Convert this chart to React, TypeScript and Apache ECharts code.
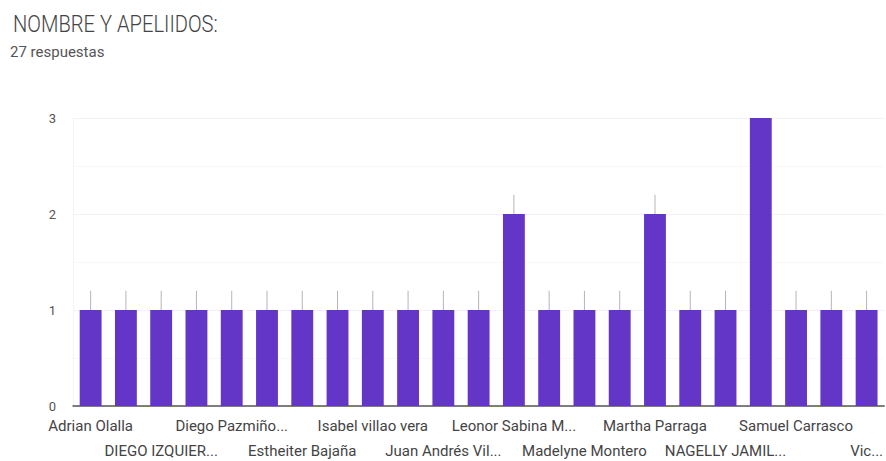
import React, { useEffect, useRef } from "react";
import * as echarts from "echarts";

const titleText = "NOMBRE Y APELIIDOS:";
const subtitleText = "27 respuestas";

// Names readable on the axis (every other bar is labelled); unlabelled bars have ""
const categories = [
  "Adrian Olalla", "", "DIEGO IZQUIER...", "", "Diego Pazmiño...", "", "Estheiter Bajaña", "",
  "Isabel villao vera", "", "Juan Andrés Vil...", "", "Leonor Sabina M...", "", "Madelyne Montero", "",
  "Martha Parraga", "", "NAGELLY JAMIL...", "", "Samuel Carrasco", "", "Vic...",
];
const counts = [1, 1, 1, 1, 1, 1, 1, 1, 1, 1, 1, 1, 2, 1, 1, 1, 2, 1, 1, 3, 1, 1, 1];
const yTicks = [0, 1, 2, 3];

const BAR = "#6436c8";

const labelBase = {
  fontSize: 15,
  color: "#444",
  showMinLabel: true,
  showMaxLabel: true,
  hideOverlap: false,
};

export default function App() {
  const ref = useRef<HTMLDivElement>(null);
  useEffect(() => {
    if (!ref.current) return;
    const chart = echarts.init(ref.current, null, { renderer: "svg" });
    chart.setOption({
      animation: false,
      backgroundColor: "#ffffff",
      textStyle: { fontFamily: "Roboto, Arial, sans-serif" },
      graphic: [
        {
          type: "text",
          x: 13,
          y: 11,
          scaleX: 0.84,
          style: {
            text: titleText,
            fontSize: 24,
            fontWeight: 300,
            fill: "#444",
            fontFamily: "Roboto",
            verticalAlign: "top",
          },
        },
        {
          type: "text",
          x: 10,
          y: 44,
          style: {
            text: subtitleText,
            fontSize: 15,
            fill: "#555",
            fontFamily: "Roboto",
            verticalAlign: "top",
          },
        },
      ],
      grid: { left: 73, right: -1, top: 118, bottom: 55 },
      xAxis: [
        {
          type: "category",
          data: categories,
          axisTick: { show: false },
          axisLine: { lineStyle: { color: "#555", width: 1.5 } },
          axisLabel: {
            ...labelBase,
            margin: 12,
            interval: (i: number) => i % 4 === 0,
          },
        },
        {
          type: "category",
          data: categories,
          position: "bottom",
          axisTick: { show: false },
          axisLine: { show: false },
          axisLabel: {
            ...labelBase,
            margin: 37,
            interval: (i: number) => i % 4 === 2,
          },
        },
      ],
      yAxis: {
        type: "value",
        min: yTicks[0],
        max: yTicks[yTicks.length - 1],
        interval: 1,
        axisLine: { show: true, lineStyle: { color: "#f4f4f4" } },
        axisTick: { show: false },
        axisLabel: { margin: 17, fontSize: 13, color: "#555" },
        splitLine: { lineStyle: { color: "#f3f3f3" } },
        minorTick: { show: false, splitNumber: 2 },
        minorSplitLine: { show: true, lineStyle: { color: "#f8f8f8" } },
      },
      series: [
        {
          type: "bar",
          data: counts,
          barWidth: "62%",
          itemStyle: { color: BAR },
          z: 2,
        },
        {
          type: "custom",
          data: counts.map((v, i) => [i, v]),
          clip: true,
          z: 3,
          renderItem: (params: any, api: any) => {
            const i = api.value(0);
            const v = api.value(1);
            const p1 = api.coord([i, v]);
            const p2 = api.coord([i, v + 0.2]);
            return {
              type: "line",
              shape: { x1: p1[0], y1: p1[1], x2: p2[0], y2: p2[1] },
              style: { stroke: "#b5b5b5", lineWidth: 1 },
            };
          },
        },
      ],
    });
    return () => chart.dispose();
  }, []);
  return (
    <div
      ref={ref}
      style={{ position: "fixed", left: 0, top: 0, width: 886, height: 461, background: "#fff" }}
    />
  );
}
